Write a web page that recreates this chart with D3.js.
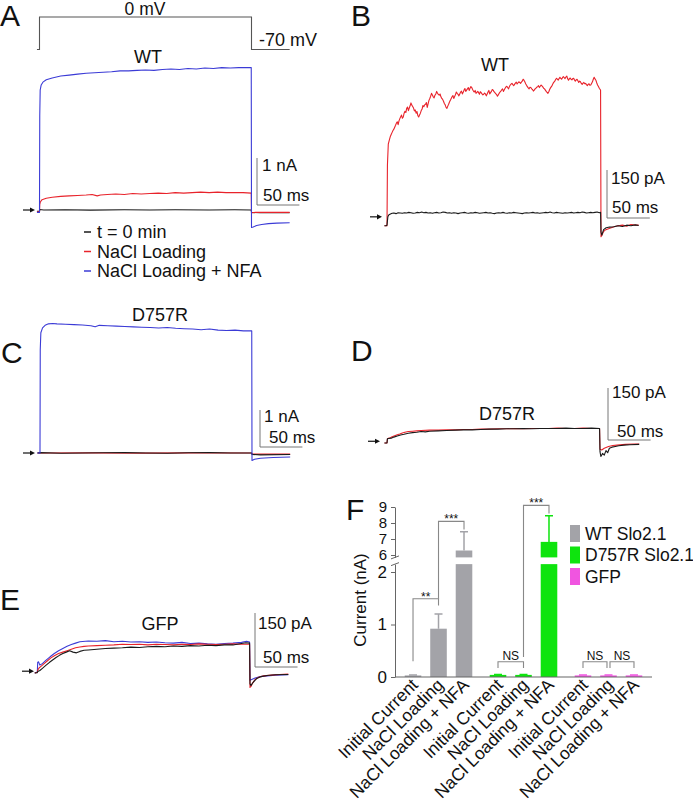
<!DOCTYPE html>
<html><head><meta charset="utf-8">
<script src="https://cdn.jsdelivr.net/npm/d3@7"></script>
<style>
body{margin:0;background:#fff}
svg{display:block}
text{font-family:"Liberation Sans",Arial,Helvetica,sans-serif;fill:#111}
</style>
</head><body>
<svg id="c" width="693" height="811"></svg>
<script>
// ---------- DATA (time in ms, current in nA or pA, voltage in mV) ----------
const protocolA = [[-3,-70],[0,-70],[0,0],[250,0],[250,-70],[295,-70]];

// Panel A (WT, nA)
const A_black = [[-3,-0.03],[0,-0.03],[0.3,0.01],[5,0],[30,0.005],[60,-0.003],[100,0.004],[130,0],[160,0.005],[200,0],[230,0.004],[249.7,0],[250,-0.05],[260,-0.06],[295,-0.06]];
const A_red = [[-3,-0.04],[0,-0.04],[0.3,0.12],[1,0.17],[3,0.22],[8,0.25],[15,0.27],[25,0.29],[35,0.3],[45,0.31],[55,0.32],[62,0.33],[68,0.3],[72,0.32],[80,0.33],[90,0.34],[100,0.33],[110,0.35],[120,0.34],[130,0.35],[140,0.36],[150,0.35],[160,0.37],[170,0.36],[180,0.37],[190,0.38],[200,0.37],[210,0.38],[220,0.37],[230,0.37],[240,0.37],[249.7,0.36],[250,-0.06],[255,-0.05],[270,-0.05],[295,-0.05]];
const A_blue = [[-3,-0.05],[0,-0.05],[0.3,2.0],[0.8,2.55],[2,2.66],[4,2.72],[8,2.77],[15,2.81],[25,2.85],[35,2.87],[45,2.89],[55,2.91],[65,2.92],[75,2.93],[85,2.94],[95,2.96],[105,2.96],[115,2.97],[125,2.98],[135,2.97],[145,2.99],[155,3.0],[165,2.99],[175,3.01],[185,3.0],[195,3.02],[205,3.01],[215,3.03],[225,3.02],[235,3.03],[245,3.03],[249.7,3.03],[250,-0.37],[252,-0.36],[256,-0.33],[262,-0.31],[270,-0.29],[280,-0.28],[295,-0.27]];

// Panel B (WT, pA)
const B_red = [[-3,-40],[0,-40],[0.5,150],[1.5,215],[2.7,228],[4,240],[5,246],[6,252],[7,258],[8,262],[9,268],[10,274],[11,281],[12,285],[13,276],[14,288],[15,295],[16,301],[17,306],[18,296],[19,300],[20,312],[21,318],[22,314],[23,327],[24,331],[25,320],[26,328],[27,335],[28,344],[29,337],[30,333],[31,328],[32,319],[33,322],[34,312],[35,317],[36,305],[37,300],[38,306],[39,312],[40,320],[41,325],[42,336],[43,332],[44,338],[45,340],[46,345],[47,330],[48,341],[49,352],[50,358],[51,365],[52,374],[53,369],[54,363],[55,360],[56,368],[57,372],[58,380],[59,374],[60,371],[61,368],[62,372],[63,363],[64,358],[65,355],[66,349],[67,342],[68,338],[69,330],[70,327],[71,334],[72,340],[73,347],[74,352],[75,358],[76,363],[77,367],[78,358],[79,364],[80,370],[81,378],[82,374],[83,371],[84,366],[85,372],[86,378],[87,381],[88,372],[89,377],[90,384],[91,389],[92,380],[93,384],[94,388],[95,392],[96,383],[97,390],[98,395],[99,392],[100,386],[101,381],[102,378],[103,383],[104,374],[105,377],[106,380],[107,376],[108,371],[109,379],[110,376],[111,372],[112,369],[113,371],[114,375],[115,372],[116,366],[117,372],[118,378],[119,383],[120,372],[121,376],[122,380],[123,386],[124,384],[125,379],[126,376],[127,373],[128,370],[129,365],[130,369],[131,374],[132,378],[133,381],[134,385],[135,388],[136,380],[137,385],[138,390],[139,394],[140,396],[141,392],[142,388],[143,395],[144,400],[145,403],[146,405],[147,401],[148,398],[149,402],[150,406],[151,409],[152,403],[153,407],[154,410],[155,408],[156,405],[157,409],[158,412],[159,418],[160,415],[161,410],[162,404],[163,399],[164,395],[165,391],[166,388],[167,393],[168,392],[169,388],[170,386],[171,381],[172,384],[173,388],[174,390],[175,393],[176,395],[177,398],[178,392],[179,396],[180,400],[181,397],[182,394],[183,390],[184,388],[185,384],[186,380],[187,377],[188,374],[189,379],[190,386],[191,391],[192,395],[193,399],[194,405],[195,409],[196,412],[197,417],[198,421],[199,418],[200,415],[201,420],[202,424],[203,421],[204,418],[205,423],[206,426],[207,423],[208,420],[209,425],[210,428],[211,420],[212,415],[213,419],[214,422],[215,418],[216,416],[217,420],[218,421],[219,416],[220,412],[221,416],[222,418],[223,413],[224,408],[225,412],[226,410],[227,405],[228,402],[229,406],[230,408],[231,404],[232,405],[233,401],[234,398],[235,402],[236,404],[237,399],[238,400],[239,405],[240,410],[241,418],[242,424],[243,419],[244,415],[245,407],[246,400],[247,395],[248,390],[249,386],[249.5,384],[250,-74],[251,-70],[253,-58],[255,-53],[258,-50],[262,-46],[266,-42],[270,-40],[275,-38],[280,-41],[285,-36],[290,-38],[294,-38]];
const B_black = [[-3,-40],[-1,-40],[0,-38],[1,-12],[2,-6],[4,-3],[6,-1],[8,0],[10.5,-2],[13,1],[15.5,0],[18,-1],[20.5,1],[23,0],[25.5,2],[28,1],[30.5,-1],[33,0],[35.5,2],[38,1],[40.5,3],[43,1],[45.5,2],[48,0],[50.5,1],[53,-1],[55.5,1],[58,2],[60.5,0],[63,1],[65.5,3],[68,2],[70.5,0],[73,1],[75.5,-1],[78,1],[80.5,0],[83,-2],[85.5,0],[88,1],[90.5,2],[93,0],[95.5,-1],[98,1],[100.5,0],[103,2],[105.5,1],[108,-1],[110.5,0],[113,1],[115.5,2],[118,0],[120.5,1],[123,-1],[125.5,-2],[128,0],[130.5,1],[133,0],[135.5,2],[138,0],[140.5,-1],[143,1],[145.5,0],[148,2],[150.5,1],[153,0],[155.5,-1],[158,-2],[160.5,0],[163,1],[165.5,0],[168,1],[170.5,2],[173,0],[175.5,1],[178,-1],[180.5,0],[183,1],[185.5,2],[188,1],[190.5,3],[193,1],[195.5,0],[198,2],[200.5,1],[203,0],[205.5,-1],[208,1],[210.5,0],[213,1],[215.5,2],[218,0],[220.5,1],[223,2],[225.5,1],[228,3],[230.5,2],[233,0],[235.5,1],[238,2],[240.5,1],[243,2],[245.5,3],[248,1],[249.5,2],[250,-60],[251,-69],[253,-52],[256,-46],[260,-44],[265,-43],[270,-40],[275,-42],[280,-38],[285,-40],[290,-37],[294,-39]];

// Panel C (D757R, nA)
const C_red = [[-3,0],[0,0],[60,0.004],[120,-0.004],[180,0.003],[249.7,0],[250,-0.03],[295,-0.03]];
const C_black = [[-3,0],[0,0.01],[25,-0.005],[50,0],[75,0.008],[100,0.01],[125,0],[150,-0.005],[175,0.006],[200,0.01],[225,0],[249.7,0],[250,-0.04],[260,-0.05],[295,-0.04]];
const C_blue = [[-3,0],[0,0],[0.3,2.8],[1,3.25],[3,3.38],[6,3.45],[10,3.49],[15,3.5],[20,3.49],[30,3.48],[40,3.47],[50,3.46],[60,3.44],[65,3.41],[70,3.45],[80,3.44],[90,3.43],[100,3.42],[110,3.41],[120,3.4],[130,3.39],[140,3.38],[150,3.39],[160,3.37],[170,3.36],[180,3.35],[190,3.33],[200,3.35],[210,3.32],[220,3.31],[230,3.32],[240,3.3],[249.7,3.3],[250,-0.2],[253,-0.17],[260,-0.14],[275,-0.12],[295,-0.11]];

// Panel D (D757R, pA)
const D_red = [[-3,0],[0,0],[0.5,12],[2,14],[4,15],[6,18],[9,21],[12,24],[15,26],[18,29],[21,31],[25,33],[30,34],[35,35],[40,36],[50,37],[60,37],[70,38],[80,38],[90,39],[100,39],[110,40],[120,40],[130,41],[140,41],[150,42],[160,41],[170,42],[180,42],[190,42],[200,43],[210,42],[220,42],[230,43],[240,42],[249.5,42],[250,-18],[252,-20],[255,-15],[260,-10],[265,-7],[270,-6],[280,-4],[290,-3],[296,-3]];
const D_black = [[-3,0],[0,0],[0.5,12],[2,13],[5,14],[8,17],[12,20],[16,23],[20,25],[25,28],[30,30],[35,31],[40,33],[45,32],[50,34],[60,35],[70,36],[80,37],[90,38],[100,38],[110,39],[120,40],[130,40],[140,41],[150,41],[160,42],[170,41],[180,42],[190,42],[200,42],[210,43],[220,42],[230,42],[240,43],[249.5,42],[250,-25],[251,-39],[253,-30],[255,-35],[257,-22],[259,-28],[261,-15],[264,-12],[268,-10],[272,-8],[278,-6],[285,-5],[296,-4]];

// Panel E (GFP, pA)
const E_blue = [[-3,0],[0,3],[0.5,30],[1.5,31],[3,22],[6,26],[10,35],[15,45],[20,54],[25,62],[30,68],[35,74],[40,79],[45,83],[50,87],[60,89],[70,88],[80,90],[90,87],[100,88],[110,86],[120,87],[130,85],[140,86],[150,84],[160,83],[170,85],[180,82],[190,83],[200,81],[210,80],[220,82],[230,83],[240,85],[246,88],[249.5,86],[250,-20],[252,-18],[256,-14],[262,-10],[270,-8],[280,-6],[295,-5]];
const E_red = [[-3,0],[0,2],[0.5,8],[2,14],[5,20],[8,26],[12,34],[16,42],[20,48],[25,54],[30,58],[35,62],[40,66],[45,70],[50,72],[55,74],[60,75],[70,76],[80,77],[90,78],[100,80],[110,79],[120,80],[130,78],[140,80],[150,79],[160,78],[170,80],[180,79],[190,81],[200,80],[210,79],[220,80],[230,81],[240,80],[249.5,80],[250,-40],[251,-38],[253,-28],[256,-18],[260,-12],[266,-8],[275,-6],[285,-4],[295,-3]];
const E_black = [[-3,0],[0,1],[0.5,4],[3,7],[6,13],[10,21],[14,29],[18,36],[22,43],[26,49],[30,54],[34,58],[38,62],[42,58],[46,56],[50,60],[55,63],[60,64],[70,66],[80,68],[90,69],[100,70],[110,72],[120,71],[130,73],[140,74],[150,73],[160,75],[170,74],[180,76],[190,75],[200,77],[210,76],[220,78],[230,78],[235,80],[240,82],[245,84],[249.5,83],[250,-30],[251,-35],[254,-25],[258,-15],[263,-10],[270,-7],[280,-5],[295,-4]];

// Panel F (bar chart, nA)
const fGroups = ["WT Slo2.1","D757R Slo2.1","GFP"];
const fConditions = ["Initial Current","NaCl Loading","NaCl Loading + NFA"];
const fMeans_WT = [0.03, 0.92, 6.28];
const fMeans_D757R = [0.04, 0.04, 6.82];
const fMeans_GFP = [0.03, 0.03, 0.03];
const fErr_WT = [0.01, 0.28, 1.17];
const fErr_D757R = [0.01, 0.01, 1.63];
const fErr_GFP = [0.01, 0.01, 0.01];
const fLowerTicks = [0,1,2];
const fUpperTicks = [6,7,8,9];
const fSig = [
  {g1:0,c1:0,g2:0,c2:1,top:1.49,leg1:0.3,leg2:1.36,label:"**"},
  {g1:0,c1:1,g2:0,c2:2,top:8.1,leg1:1.49,leg2:7.6,label:"***"},
  {g1:1,c1:1,g2:1,c2:2,top:9.1,leg1:0.38,leg2:8.6,label:"***"},
  {g1:1,c1:0,g2:1,c2:1,top:0.29,leg1:0.17,leg2:0.17,label:"NS"},
  {g1:2,c1:0,g2:2,c2:1,top:0.29,leg1:0.17,leg2:0.17,label:"NS"},
  {g1:2,c1:1,g2:2,c2:2,top:0.29,leg1:0.17,leg2:0.17,label:"NS"}
];

// ---------- STYLE ----------
const COL = {black:"#1a1a1a", red:"#e8232b", blue:"#3b3bd6", proto:"#555", bar:"#777"};
const F_COL = ["#a3a3a8","#0ee40e","#f055e0"];

const svg = d3.select("#c");

function trace(g, data, x, y, color){
  g.append("path").datum(data)
    .attr("d", d3.line().x(d=>x(d[0])).y(d=>y(d[1])))
    .attr("fill","none").attr("stroke",color).attr("stroke-width",1.1)
    .attr("stroke-linejoin","round");
}
function scaleBar(g, x0, y0, x, y, tVal, iVal, lab1, lab2, l1, l2){
  const w = x(tVal)-x(0), h = y(0)-y(iVal);
  g.append("path").attr("d",`M${x0},${y0-h}V${y0}H${x0+w}`)
    .attr("fill","none").attr("stroke",COL.bar).attr("stroke-width",1);
  g.append("text").attr("x",l1[0]).attr("y",l1[1]).attr("font-size",17).text(lab1);
  g.append("text").attr("x",l2[0]).attr("y",l2[1]).attr("font-size",17).text(lab2);
}
function arrow(g, xEnd, yv){
  g.append("line").attr("x1",xEnd-12).attr("x2",xEnd-3).attr("y1",yv).attr("y2",yv)
    .attr("stroke","#111").attr("stroke-width",1.2);
  g.append("path").attr("d",`M${xEnd},${yv}L${xEnd-5},${yv-2.6}L${xEnd-5},${yv+2.6}Z`).attr("fill","#111");
}
function panelLabel(t,x,y){
  svg.append("text").attr("x",x).attr("y",y).attr("font-size",30).text(t);
}
function title(t,x,y){
  svg.append("text").attr("x",x).attr("y",y).attr("font-size",18).attr("text-anchor","middle").text(t);
}

// ---------- PANEL A ----------
const xA = d3.scaleLinear().domain([0,250]).range([39.5,251.5]);
const yA = d3.scaleLinear().domain([0,3]).range([210,69]);
const yV = d3.scaleLinear().domain([-70,0]).range([49.5,17]);
const gA = svg.append("g");
panelLabel("A",0,26);
gA.append("path").datum(protocolA).attr("d",d3.line().x(d=>xA(d[0])).y(d=>yV(d[1])))
  .attr("fill","none").attr("stroke",COL.proto).attr("stroke-width",1.1);
gA.append("text").attr("x",145).attr("y",15).attr("font-size",17.5).attr("text-anchor","middle").text("0 mV");
gA.append("text").attr("x",259).attr("y",46).attr("font-size",18).text("-70 mV");
title("WT",148,63);
trace(gA,A_black,xA,yA,COL.black);
trace(gA,A_red,xA,yA,COL.red);
trace(gA,A_blue,xA,yA,COL.blue);
arrow(gA,35,yA(0));
scaleBar(gA,257,205,xA,yA,50,1,"1 nA","50 ms",[262,171],[263,201]);
// legend
const legA = [["t = 0 min",COL.black],["NaCl Loading",COL.red],["NaCl Loading + NFA",COL.blue]];
legA.forEach((d,i)=>{
  const yy = 238 + i*19.5;
  gA.append("line").attr("x1",84).attr("x2",91).attr("y1",yy-6).attr("y2",yy-6).attr("stroke",d[1]).attr("stroke-width",1.5);
  gA.append("text").attr("x",97).attr("y",yy).attr("font-size",18).text(d[0]);
});

// ---------- PANEL B ----------
const xB = d3.scaleLinear().domain([0,250]).range([387,601]);
const yB = d3.scaleLinear().domain([0,300]).range([213,117]);
const gB = svg.append("g");
panelLabel("B",351,26);
title("WT",495,71);
trace(gB,B_red,xB,yB,COL.red);
trace(gB,B_black,xB,yB,COL.black);
arrow(gB,382,yB(-12));
scaleBar(gB,607,218,xB,yB,50,150,"150 pA","50 ms",[611,184],[612,213]);

// ---------- PANEL C ----------
const xC = d3.scaleLinear().domain([0,250]).range([40,252]);
const yC = d3.scaleLinear().domain([0,3]).range([453,342]);
const gC = svg.append("g");
panelLabel("C",1,363);
title("D757R",160,321);
trace(gC,C_red,xC,yC,COL.red);
trace(gC,C_black,xC,yC,COL.black);
trace(gC,C_blue,xC,yC,COL.blue);
arrow(gC,35,yC(0));
scaleBar(gC,260,447,xC,yC,50,1,"1 nA","50 ms",[264,422],[269,443]);

// ---------- PANEL D ----------
const xD = d3.scaleLinear().domain([0,250]).range([387,600]);
const yD = d3.scaleLinear().domain([0,150]).range([443,391]);
const gD = svg.append("g");
panelLabel("D",351,361);
title("D757R",507,420);
trace(gD,D_red,xD,yD,COL.red);
trace(gD,D_black,xD,yD,COL.black);
arrow(gD,380,yD(5));
scaleBar(gD,608,440,xD,yD,50,150,"150 pA","50 ms",[612,398],[617,437]);

// ---------- PANEL E ----------
const xE = d3.scaleLinear().domain([0,250]).range([37.3,250]);
const yE = d3.scaleLinear().domain([0,150]).range([673,619]);
const gE = svg.append("g");
panelLabel("E",0,610);
title("GFP",160,630);
trace(gE,E_blue,xE,yE,COL.blue);
trace(gE,E_red,xE,yE,COL.red);
trace(gE,E_black,xE,yE,COL.black);
arrow(gE,34,yE(5));
scaleBar(gE,255,667,xE,yE,50,150,"150 pA","50 ms",[258,629],[263,663]);

// ---------- PANEL F ----------
const gF = svg.append("g");
panelLabel("F",346,520);
const lowMax = 2.15, upMin = 5.85;
const yLow = d3.scaleLinear().domain([0,lowMax]).range([677,677-lowMax*52.5]);
const yUp = d3.scaleLinear().domain([6,9]).range([555,507]);
const yF = v => v<=lowMax ? yLow(v) : yUp(Math.max(v,upMin));
const xG = d3.scaleBand().domain(fGroups).range([395,652]).paddingInner(0.1).paddingOuter(0.062);
const xI = d3.scaleBand().domain(fConditions).range([0,xG.bandwidth()]).paddingInner(0.35).paddingOuter(0.175);
const means = [fMeans_WT,fMeans_D757R,fMeans_GFP];
const errs = [fErr_WT,fErr_D757R,fErr_GFP];
const cx = (g,c)=> xG(fGroups[g]) + xI(fConditions[c]) + xI.bandwidth()/2;
const bw = xI.bandwidth();

means.forEach((arr,g)=>{
  arr.forEach((v,c)=>{
    const x0 = xG(fGroups[g]) + xI(fConditions[c]);
    const col = F_COL[g];
    if (v<=lowMax){
      gF.append("rect").attr("x",x0).attr("y",yLow(v)).attr("width",bw).attr("height",yLow(0)-yLow(v)).attr("fill",col);
    } else {
      gF.append("rect").attr("x",x0).attr("y",yLow(lowMax)).attr("width",bw).attr("height",yLow(0)-yLow(lowMax)).attr("fill",col);
      gF.append("rect").attr("x",x0).attr("y",yUp(v)).attr("width",bw).attr("height",yUp(upMin)-yUp(v)).attr("fill",col);
    }
    const e = v + errs[g][c];
    const xm = x0 + bw/2;
    gF.append("path").attr("d",`M${xm},${yF(v)}V${yF(e)}M${xm-4},${yF(e)}H${xm+4}`)
      .attr("stroke",col).attr("stroke-width",1.5).attr("fill","none");
  });
});

// axes
const axL = d3.axisLeft(yLow).tickValues(fLowerTicks).tickSize(4).tickSizeOuter(0).tickFormat(d3.format("d"));
const axU = d3.axisLeft(yUp.copy().domain([upMin,9]).range([yUp(upMin),yUp(9)])).tickValues(fUpperTicks).tickSize(4).tickSizeOuter(0).tickFormat(d3.format("d"));
[[axL,17],[axU,15]].forEach(([ax,fs])=>{
  const a = gF.append("g").attr("transform","translate(395,0)").call(ax);
  a.selectAll("path,line").attr("stroke","#666");
  a.selectAll("text").attr("font-size",fs).attr("fill","#111").attr("font-family",'"Liberation Sans",Arial,sans-serif').attr("dx",-1);
});
// break marks
[yUp(upMin), yLow(lowMax)].forEach(yy=>{
  gF.append("line").attr("x1",391).attr("x2",399).attr("y1",yy+1.5).attr("y2",yy-1.5).attr("stroke","#666");
});
// x axis line
gF.append("line").attr("x1",395).attr("x2",652).attr("y1",yLow(0)).attr("y2",yLow(0)).attr("stroke","#666").attr("stroke-width",1.2);

// y label
gF.append("text").attr("transform",`translate(366,600) rotate(-90)`).attr("text-anchor","middle")
  .attr("font-size",17).text("Current (nA)");

// x labels
fGroups.forEach((gname,g)=>{
  fConditions.forEach((c,ci)=>{
    gF.append("text").attr("transform",`translate(${cx(g,ci)+6},${yLow(0)+9}) rotate(-45)`)
      .attr("text-anchor","end").attr("font-size",17.5).text(c);
  });
});

// significance brackets
fSig.forEach((s,i)=>{
  let x1 = cx(s.g1,s.c1), x2 = cx(s.g2,s.c2);
  if (s.label==="NS" && s.g1===2){ if (s.c1===0) x2-=1.5; else x1+=1.5; }
  const yt = yF(s.top);
  gF.append("path").attr("d",`M${x1},${yF(s.leg1)}V${yt}H${x2}V${yF(s.leg2)}`)
    .attr("fill","none").attr("stroke","#888").attr("stroke-width",1.1);
  gF.append("text").attr("x",(x1+x2)/2).attr("y", s.label==="NS"? yt-2 : yt+2)
    .attr("text-anchor","middle").attr("font-size",12).text(s.label);
});

// legend
fGroups.forEach((gname,g)=>{
  const yy = 525 + g*21.5;
  gF.append("rect").attr("x",570).attr("y",yy).attr("width",10).attr("height",17).attr("fill",F_COL[g]);
  gF.append("text").attr("x",585).attr("y",yy+14.5).attr("font-size",17.5).text(gname);
});
</script>
</body></html>
